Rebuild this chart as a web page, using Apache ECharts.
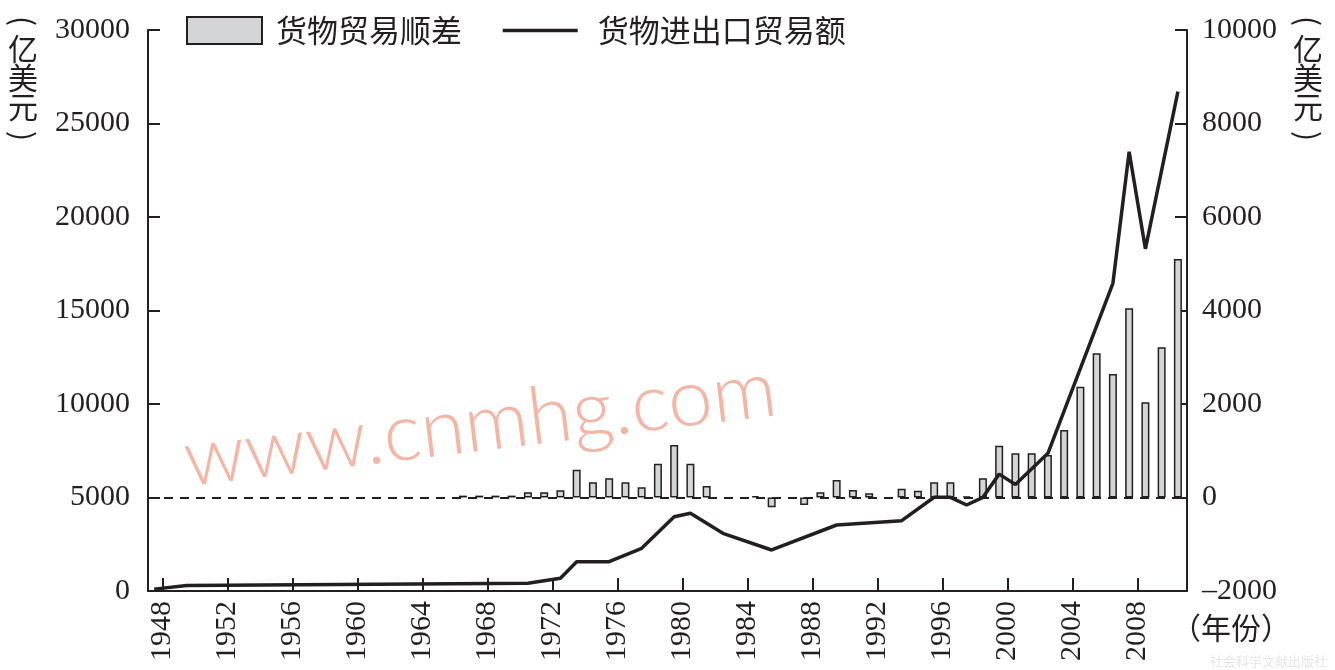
<!DOCTYPE html>
<html><head><meta charset="utf-8">
<script src="https://cdn.jsdelivr.net/npm/echarts@6/dist/echarts.min.js"></script>
<style>html,body{margin:0;padding:0;background:#fff}#c{width:1335px;height:670px}</style>
</head><body><div id="c"></div>
<script>
// ---- data ----
const seriesNames = ['货物贸易顺差', '货物进出口贸易额'];
// trade balance bars (right axis, 亿美元)
const barYears = [1966,1967,1968,1969,1970,1971,1972,1973,1974,1975,1976,1977,1978,1979,1980,1981,1982,1983,1984,1985,1986,1987,1988,1989,1990,1991,1992,1993,1994,1995,1996,1997,1998,1999,2000,2001,2002,2003,2004,2005,2006,2007,2008,2009,2010];
const tradeBalance = [40,40,40,40,110,110,154,595,325,410,325,218,724,1123,724,246,null,null,30,-210,null,-160,111,374,160,90,null,188,145,325,325,20,411,1105,945,945,909,1444,2371,3084,2642,4047,2036,3212,5100];
// total trade line (left axis, 亿美元) – vertices as drawn
const lineYears = [1947,1949,1970,1972,1973,1975,1977,1979,1980,1982,1985,1989,1993,1995,1996,1997,1998,1999,2000,2002,2006,2007,2008,2010];
const tradeTotal = [100,300,410,680,1567,1567,2283,3973,4155,3085,2193,3529,3760,5011,5011,4599,5011,6250,5700,7364,16455,23492,18300,26701];
// x tick labels
const xTickYears = [1948,1952,1956,1960,1964,1968,1972,1976,1980,1984,1988,1992,1996,2000,2004,2008];
const unitChars = ['亿','美','元'];
const xUnit = '（年份）';
const watermark = 'www.cnmhg.com';
const publisher = '社会科学文献出版社';

const MID = 0.5; // each year's mark sits mid-year between ticks
const INK = '#231f20';
const numFont = 'Liberation Serif';
const cjkFont = 'Noto Sans CJK SC';
const fmt = v => String(v).replace('-', '–');

const unitGraphics = [];
[23, 1308].forEach(cx => {
  unitGraphics.push({type:'text', x: cx, y: 21, rotation: -Math.PI / 2, silent:true,
    style:{text:'(', font:'30px "' + cjkFont + '"', fill: INK, align:'center', verticalAlign:'middle'}});
  unitChars.forEach((ch, i) => {
    unitGraphics.push({type:'text', x: cx, y: 49 + i * 29, silent:true,
      style:{text: ch, font: '30px "' + cjkFont + '"', fill: INK, align:'center', verticalAlign:'middle'}});
  });
  unitGraphics.push({type:'text', x: cx, y: 136, rotation: -Math.PI / 2, silent:true,
    style:{text:')', font:'30px "' + cjkFont + '"', fill: INK, align:'center', verticalAlign:'middle'}});
});

const chart = echarts.init(document.getElementById('c'), null, {renderer:'canvas'});
chart.setOption({
  animation: false,
  backgroundColor: '#fff',
  grid: {left:148, right:148, top:30, bottom:79, containLabel:false},
  legend: {
    left:186, top:15, padding:0, itemWidth:75, itemHeight:27, itemGap:39,
    textStyle:{fontSize:31, fontFamily:cjkFont, color:INK},
    data:[
      {name: seriesNames[0], icon:'rect', textStyle:{padding:[0,0,0,9]}},
      {name: seriesNames[1], itemStyle:{opacity:0}, lineStyle:{width:3.5}, textStyle:{padding:[0,0,0,15]}}
    ]
  },
  xAxis: {
    type:'value', min:1947.12, max:2011.06,
    axisLine:{show:true, onZero:false, lineStyle:{color:INK, width:2}},
    axisTick:{show:true, inside:true, length:13, lineStyle:{color:INK, width:2}, customValues: xTickYears},
    axisLabel:{customValues: xTickYears, rotate:90, margin:10, fontSize:30, fontFamily:numFont, color:INK, formatter: v => String(v)},
    splitLine:{show:false}
  },
  yAxis: [
    {type:'value', min:0, max:30000, interval:5000, position:'left',
     axisLine:{show:true, lineStyle:{color:INK, width:2}},
     axisTick:{show:true, inside:true, length:12, lineStyle:{color:INK, width:2}},
     axisLabel:{margin:18, fontSize:30, fontFamily:numFont, color:INK, formatter: fmt},
     splitLine:{show:false}},
    {type:'value', min:-2000, max:10000, interval:2000, position:'right',
     axisLine:{show:true, onZero:false, lineStyle:{color:INK, width:2}},
     axisTick:{show:true, inside:true, length:12, lineStyle:{color:INK, width:2}},
     axisLabel:{margin:15, fontSize:30, fontFamily:numFont, color:INK, formatter: fmt},
     splitLine:{show:false}}
  ],
  series: [
    {type:'bar', name: seriesNames[0], yAxisIndex:1, barWidth:8, z:2,
     data: barYears.map((y, i) => [y + MID, tradeBalance[i]]),
     itemStyle:{color:'#d4d5d7', borderColor:INK, borderWidth:1.5},
     markLine:{silent:true, symbol:'none', label:{show:false},
       lineStyle:{type:[9,7], color:INK, width:2}, data:[{yAxis:0}]}},
    {type:'line', name: seriesNames[1], yAxisIndex:0, z:3, symbol:'none',
     data: lineYears.map((y, i) => [y + MID, tradeTotal[i]]),
     lineStyle:{color:INK, width:3.5}, itemStyle:{color:INK}}
  ],
  graphic: unitGraphics.concat([
    {type:'text', x:1231, y:628, silent:true,
     style:{text:xUnit, font:'30px "' + cjkFont + '"', fill:INK, align:'center', verticalAlign:'middle'}},
    {type:'text', x:480, y:425, rotation:0.12, silent:true, z:-1,
     style:{text:watermark, font:'300 80px Lato', fill:'#f5b5a5', align:'center', verticalAlign:'middle'}},
    {type:'text', x:1210, y:655, silent:true,
     style:{text:publisher, font:'13px "' + cjkFont + '"', fill:'#e6e6e6'}}
  ])
});
</script></body></html>
